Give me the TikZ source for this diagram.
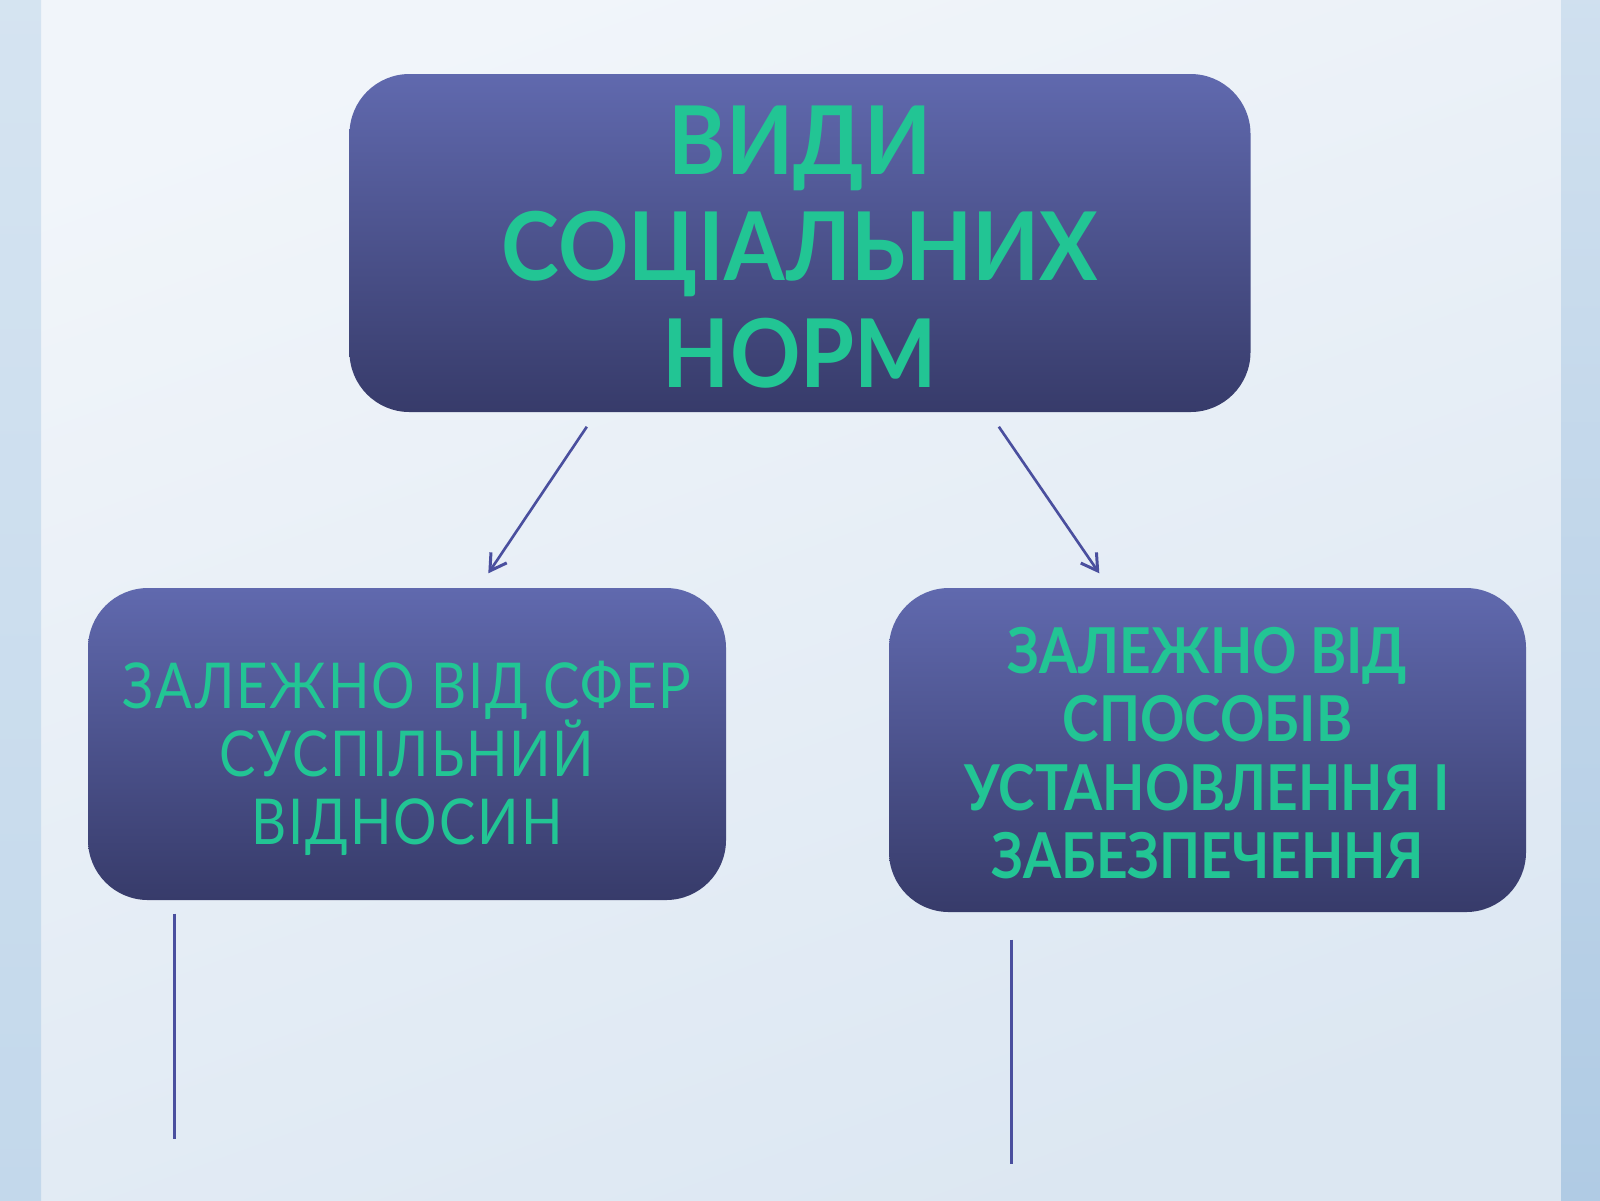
\documentclass[tikz,border=0pt]{standalone}
\usepackage{fontspec}
\setmainfont{Lato}
\usetikzlibrary{arrows.meta,positioning,calc}
\definecolor{bgtop}{HTML}{F1F5FA}
\definecolor{bgbot}{HTML}{DCE7F2}
\definecolor{stripL}{HTML}{C3D8EB}
\definecolor{stripR}{HTML}{B0CBE4}
\definecolor{boxtop}{HTML}{6069AE}
\definecolor{boxbot}{HTML}{373B6A}
\definecolor{normgreen}{HTML}{22C594}
\definecolor{linkblue}{HTML}{4A4F9E}

\begin{document}
\begin{tikzpicture}[
  normbox/.style={rounded corners=0.6cm, top color=boxtop, bottom color=boxbot,
    inner sep=0pt},
  normtext/.style={text=normgreen, align=center, inner sep=0pt},
  link/.style={draw=linkblue, line width=0.75pt},
  tip/.style={-{Straight Barb[length=1.6mm,width=1.9mm,line width=0.85pt]}}]
\useasboundingbox (0,0) rectangle (16,-12);
% background and side strips
\shade[top color=bgtop, bottom color=bgbot, shading angle=20] (0,0) rectangle (16,-12);
\shade[top color=stripL!70!white, bottom color=stripL] (0,0) rectangle (0.41,-12);
\shade[top color=stripR!60!white, bottom color=stripR] (15.61,0) rectangle (16,-12);

\node[normbox, minimum width=9.01cm, minimum height=3.38cm] (kinds) at (8.0,-2.43) {};
\node[normbox, minimum width=6.38cm, minimum height=3.12cm] (sphere) at (4.07,-7.44) {};
\node[normbox, minimum width=6.37cm, minimum height=3.24cm] (ways) at (12.075,-7.5) {};

\node[normtext, font=\fontsize{27}{30.4}\selectfont\bfseries\addfontfeature{FakeStretch=0.92}]
  (kindstext) at ($(kinds.center)+(0,-0.04)$) {ВИДИ\\СОЦІАЛЬНИХ\\НОРМ};
\node[normtext, font=\fontsize{18}{19.4}\selectfont\addfontfeature{FakeStretch=0.86,LetterSpace=3}]
  (spheretext) at ($(sphere.center)+(0,-0.14)$) {ЗАЛЕЖНО ВІД СФЕР\\СУСПІЛЬНИЙ\\ВІДНОСИН};
\node[normtext, font=\fontsize{18}{19.4}\selectfont\bfseries\addfontfeature{FakeStretch=0.87}]
  (waystext) at ($(ways.center)+(0,-0.03)$) {ЗАЛЕЖНО ВІД\\СПОСОБІВ\\УСТАНОВЛЕННЯ І\\ЗАБЕЗПЕЧЕННЯ};

\coordinate (a1) at ($(kinds.south west)+(2.38,-0.14)$);
\coordinate (b1) at ($(sphere.north west)+(4.01,0.14)$);
\coordinate (a2) at ($(kinds.south west)+(6.50,-0.14)$);
\coordinate (b2) at ($(ways.north west)+(2.11,0.14)$);
\draw[link, tip] (a1) -- (b1);
\draw[link, tip] (a2) -- (b2);

\coordinate (c1) at ($(sphere.south west)+(0.87,-0.13)$);
\coordinate (d1) at ($(c1)+(0,-2.25)$);
\coordinate (c2) at ($(ways.south west)+(1.23,-0.27)$);
\coordinate (d2) at ($(c2)+(0,-2.24)$);
\draw[link] (c1) -- (d1);
\draw[link] (c2) -- (d2);
\end{tikzpicture}
\end{document}
